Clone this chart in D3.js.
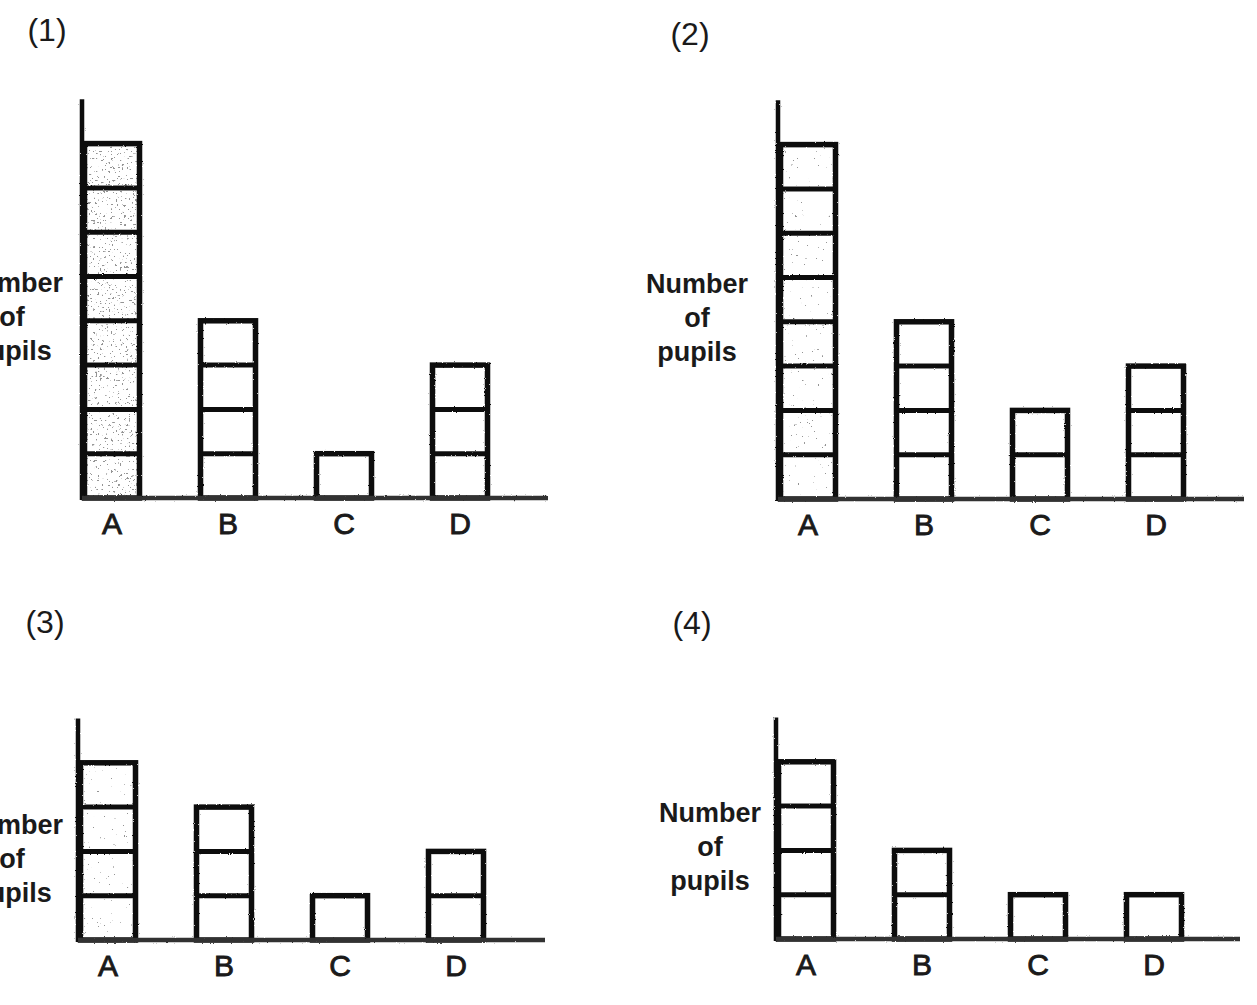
<!DOCTYPE html>
<html>
<head>
<meta charset="utf-8">
<script src="https://cdn.jsdelivr.net/npm/d3@7"></script>
<style>
  html, body { margin: 0; padding: 0; background: #fff; }
  svg { display: block; }
  text { font-family: "Liberation Sans", Arial, sans-serif; fill: #1a1a1a; }
</style>
</head>
<body>
<svg id="chart"></svg>
<script>
const width = 1257;
const height = 1005;

// data
const categories = ["A", "B", "C", "D"];
const panelTitles = ["(1)", "(2)", "(3)", "(4)"];
const pupils1 = [8, 4, 1, 3];
const pupils2 = [8, 4, 2, 3];
const pupils3 = [4, 3, 1, 2];
const pupils4 = [4, 2, 1, 1];
const yMax = [9, 9, 5, 5];
const yLabelLines = ["Number", "of", "pupils"];

const panelValues = [pupils1, pupils2, pupils3, pupils4];

// layout of the four panels (pixels)
const layout = [
  { axisX: 82,  baseY: 498, xEnd: 548,  titleX: 47,  titleY: 41,  labelX: 12,  labelY: 292, shade: "speckleDense" },
  { axisX: 778, baseY: 499, xEnd: 1244, titleX: 690, titleY: 45,  labelX: 697, labelY: 293, shade: "speckleLight" },
  { axisX: 78,  baseY: 940, xEnd: 545,  titleX: 45,  titleY: 633, labelX: 12,  labelY: 834, shade: "speckleLight" },
  { axisX: 776, baseY: 939, xEnd: 1240, titleX: 692, titleY: 634, labelX: 710, labelY: 822, shade: null }
];
const unit = 44.3;     // height of one pupil box
const step = 116;      // distance between bars
const barW = 60;       // outer bar width
const lineH = 34;

const svg = d3.select("#chart").attr("width", width).attr("height", height);

// scanned-paper look: speckle fill and slightly rough strokes
const defs = svg.append("defs");
function speckle(id, slope, offset) {
  const f = defs.append("filter").attr("id", id)
    .attr("x", 0).attr("y", 0).attr("width", 1).attr("height", 1);
  f.append("feTurbulence").attr("type", "fractalNoise")
    .attr("baseFrequency", 0.45).attr("numOctaves", 2).attr("seed", 11).attr("result", "noise");
  f.append("feColorMatrix").attr("in", "noise").attr("type", "matrix")
    .attr("values", `0 0 0 0 0.3  0 0 0 0 0.3  0 0 0 0 0.3  ${slope} 0 0 0 ${offset}`)
    .attr("result", "dots");
  f.append("feComposite").attr("in", "dots").attr("in2", "SourceAlpha").attr("operator", "in");
}
speckle("speckleDense", 26, -17.4);
speckle("speckleLight", 26, -19.6);

const rough = defs.append("filter").attr("id", "rough")
  .attr("x", "-5%").attr("y", "-5%").attr("width", "110%").attr("height", "110%");
rough.append("feTurbulence").attr("type", "fractalNoise")
  .attr("baseFrequency", 0.9).attr("numOctaves", 1).attr("seed", 4).attr("result", "grain");
rough.append("feDisplacementMap").attr("in", "SourceGraphic").attr("in2", "grain")
  .attr("scale", 2.4).attr("xChannelSelector", "R").attr("yChannelSelector", "G");

panelValues.forEach((values, p) => {
  const L = layout[p];
  const data = categories.map((c, i) => ({ cat: c, value: values[i] }));

  const x = d3.scaleBand()
    .domain(categories)
    .range([L.axisX, L.axisX + 3 * step + barW])
    .paddingInner((step - barW) / step)
    .paddingOuter(0)
    .align(0);

  const y = d3.scaleLinear()
    .domain([0, yMax[p]])
    .range([L.baseY, L.baseY - yMax[p] * unit]);

  const g = svg.append("g").attr("class", "panel");

  // title
  g.append("text")
    .attr("x", L.titleX).attr("y", L.titleY)
    .attr("text-anchor", "middle")
    .attr("font-size", 32)
    .text(panelTitles[p]);

  // y label
  g.append("text")
    .attr("text-anchor", "middle")
    .attr("font-size", 27)
    .attr("font-weight", "bold")
    .selectAll("tspan")
    .data(yLabelLines)
    .join("tspan")
    .attr("x", L.labelX)
    .attr("y", (d, i) => L.labelY + i * lineH)
    .text(d => d);

  const marks = g.append("g").attr("filter", "url(#rough)");

  // speckled shading on bar A
  if (L.shade) {
    marks.append("g").attr("filter", `url(#${L.shade})`)
      .selectAll("rect")
      .data(data.filter(d => d.cat === "A"))
      .join("rect")
      .attr("x", d => x(d.cat) + 3)
      .attr("y", d => y(d.value) + 3)
      .attr("width", x.bandwidth() - 6)
      .attr("height", d => y(0) - y(d.value) - 6)
      .attr("fill", "#000");
  }

  const bars = marks.selectAll("g.bar")
    .data(data)
    .join("g")
    .attr("class", "bar");

  // dividing lines between pupil boxes
  bars.selectAll("line")
    .data(d => d3.range(1, d.value).map(k => ({ cat: d.cat, k })))
    .join("line")
    .attr("x1", d => x(d.cat) + 2)
    .attr("x2", d => x(d.cat) + x.bandwidth() - 2)
    .attr("y1", d => y(d.k))
    .attr("y2", d => y(d.k))
    .attr("stroke", "#111")
    .attr("stroke-width", 5);

  // outer frame of each bar
  bars.append("rect")
    .attr("x", d => x(d.cat) + 2.5)
    .attr("y", d => y(d.value))
    .attr("width", x.bandwidth() - 5)
    .attr("height", d => y(0) - y(d.value))
    .attr("fill", "none")
    .attr("stroke", "#111")
    .attr("stroke-width", 5.5);

  // axes lines
  marks.append("line")
    .attr("x1", L.axisX).attr("x2", L.axisX)
    .attr("y1", y(0) + 2).attr("y2", y(yMax[p]))
    .attr("stroke", "#111")
    .attr("stroke-width", 4.5);

  marks.append("line")
    .attr("x1", L.axisX).attr("x2", L.xEnd)
    .attr("y1", y(0)).attr("y2", y(0))
    .attr("stroke", "#333")
    .attr("stroke-width", 4.5);

  // category labels
  const axis = d3.axisBottom(x).tickSize(0).tickPadding(0);
  const ax = g.append("g")
    .attr("transform", `translate(0,${L.baseY + 36})`)
    .call(axis);
  ax.select(".domain").remove();
  ax.selectAll("text")
    .attr("dy", 0)
    .attr("font-size", 30)
    .attr("font-family", "'Liberation Sans', Arial, sans-serif")
    .attr("fill", "#1a1a1a")
    .attr("stroke", "#1a1a1a")
    .attr("stroke-width", 0.9);
});
</script>
</body>
</html>
